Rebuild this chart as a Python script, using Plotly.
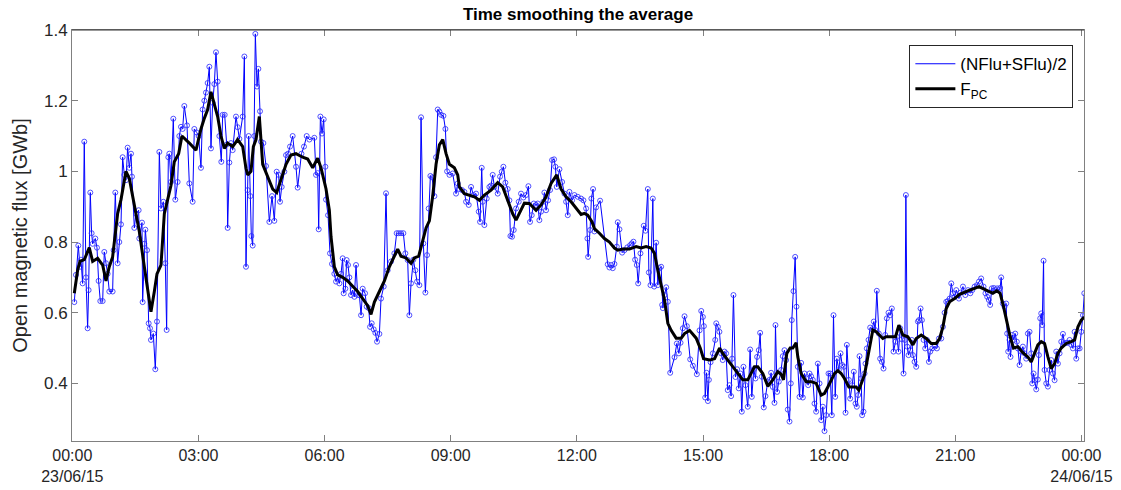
import plotly.graph_objects as go

# ---- data: hours after 00:00 23/06/15 ----
blue_hours = [
    0.048, 0.087, 0.143, 0.182, 0.206, 0.246, 0.285, 0.325, 0.365, 0.388, 0.428, 0.46, 0.484, 0.547, 0.587,
    0.626, 0.666, 0.722, 0.761, 0.801, 0.84, 0.88, 0.959, 0.983, 1.023, 1.078, 1.118, 1.158, 1.197, 1.237,
    1.277, 1.316, 1.356, 1.396, 1.419, 1.475, 1.515, 1.578, 1.594, 1.657, 1.673, 1.713, 1.737, 1.777, 1.816,
    1.848, 1.871, 1.927, 1.974, 2.014, 2.07, 2.109, 2.165, 2.212, 2.244, 2.284, 2.307, 2.347, 2.402, 2.45,
    2.505, 2.545, 2.585, 2.624, 2.664, 2.728, 2.783, 2.862, 2.902, 2.958,
    3.005, 3.06, 3.1, 3.14, 3.179, 3.219, 3.259, 3.298, 3.338, 3.378, 3.417, 3.457, 3.497, 3.544, 3.576,
    3.624, 3.671, 3.695, 3.735, 3.774, 3.814, 3.893, 3.933, 3.973, 4.052, 4.092, 4.131, 4.171, 4.195, 4.234,
    4.258, 4.29, 4.329, 4.353, 4.393, 4.425, 4.464, 4.488, 4.544, 4.607, 4.686, 4.75, 4.805, 4.861, 4.908,
    4.94, 4.98, 5.043, 5.083, 5.13, 5.178, 5.241, 5.32, 5.36, 5.45, 5.51, 5.574, 5.638, 5.756, 5.796,
    5.836, 5.86, 5.9, 5.939, 5.979, 6.018, 6.034, 6.082,
    6.129, 6.176, 6.232, 6.272, 6.311, 6.351, 6.391, 6.43, 6.454, 6.494, 6.525, 6.557, 6.589, 6.629, 6.668,
    6.708, 6.748, 6.787, 6.827, 6.867, 6.906, 6.962, 7.001, 7.049, 7.081, 7.12, 7.168, 7.207, 7.247, 7.303,
    7.342, 7.406, 7.461, 7.5, 7.58, 7.659, 7.714, 7.762, 7.817, 7.873, 7.921, 7.976, 8.016, 8.056, 8.111,
    8.159, 8.199, 8.254, 8.294, 8.349, 8.397, 8.437, 8.476, 8.516, 8.556, 8.611, 8.651, 8.691, 8.73, 8.77,
    8.826, 8.873, 8.913, 8.97,
    9.047, 9.126, 9.166, 9.206, 9.269, 9.325, 9.364, 9.428, 9.483, 9.539, 9.602, 9.666, 9.697, 9.737, 9.761,
    9.8, 9.856, 9.919, 9.959, 9.998, 10.038, 10.117, 10.173, 10.213, 10.252, 10.3, 10.355, 10.395, 10.419, 10.458,
    10.498, 10.553, 10.617, 10.672, 10.728, 10.791, 10.847, 10.886, 10.926, 10.974, 11.029, 11.069, 11.108, 11.148, 11.203,
    11.227, 11.267, 11.315, 11.362, 11.41, 11.458, 11.489, 11.521, 11.585, 11.648, 11.704, 11.743, 11.783, 11.822, 11.886,
    11.941, 12.021, 12.1, 12.156, 12.219, 12.251, 12.267,
    12.314, 12.345, 12.385, 12.417, 12.457, 12.552, 12.734, 12.774, 12.814, 12.853, 12.893, 12.949, 12.972, 13.012, 13.076,
    13.131, 13.2, 13.266, 13.306, 13.345, 13.385, 13.425, 13.457, 13.512, 13.591, 13.631, 13.687, 13.711, 13.75, 13.806,
    13.838, 13.885, 13.925, 13.965, 14.004, 14.028, 14.044, 14.084, 14.124, 14.163, 14.219, 14.322, 14.377, 14.425, 14.465,
    14.52, 14.56, 14.616, 14.695, 14.758, 14.853, 14.917, 14.957, 14.996, 15.02, 15.052, 15.084, 15.116, 15.139, 15.179,
    15.234, 15.29, 15.314, 15.353,
    15.39, 15.43, 15.469, 15.509, 15.549, 15.588, 15.628, 15.668, 15.692, 15.723, 15.771, 15.811, 15.85, 15.89, 15.922,
    15.961, 16.009, 16.064, 16.12, 16.16, 16.207, 16.247, 16.286, 16.326, 16.358, 16.397, 16.445, 16.485, 16.54, 16.58,
    16.619, 16.659, 16.699, 16.723, 16.762, 16.802, 16.857, 16.897, 16.937, 16.976, 17.016, 17.056, 17.087, 17.111, 17.151,
    17.191, 17.222, 17.254, 17.294, 17.333, 17.373, 17.413, 17.452, 17.5, 17.532, 17.571, 17.611, 17.651, 17.69, 17.73,
    17.77, 17.81, 17.849, 17.889, 17.929, 17.984, 18.024, 18.063, 18.103, 18.143, 18.182, 18.23, 18.27, 18.309, 18.349,
    18.389, 18.42,
    18.467, 18.499, 18.546, 18.586, 18.626, 18.657, 18.689, 18.721, 18.76, 18.784, 18.816, 18.84, 18.864, 18.895, 18.935,
    18.975, 19.022, 19.062, 19.094, 19.133, 19.181, 19.212, 19.252, 19.292, 19.332, 19.371, 19.411, 19.451, 19.49, 19.53,
    19.578, 19.609, 19.649, 19.689, 19.728, 19.768, 19.8, 19.824, 19.856, 19.887, 19.927, 19.967, 19.991, 20.03, 20.07,
    20.11, 20.134, 20.173, 20.205, 20.245, 20.284, 20.324, 20.372, 20.403, 20.451, 20.507, 20.562, 20.61, 20.665, 20.705,
    20.745, 20.784, 20.824, 20.864, 20.903, 20.943, 20.983, 21.022, 21.086, 21.126, 21.181, 21.237, 21.3, 21.356, 21.403,
    21.459, 21.514, 21.562,
    21.614, 21.67, 21.717, 21.757, 21.797, 21.828, 21.868, 21.916, 21.955, 21.995, 22.035, 22.066, 22.09, 22.13, 22.17,
    22.209, 22.233, 22.257, 22.289, 22.312, 22.352, 22.392, 22.424, 22.463, 22.487, 22.527, 22.566, 22.606, 22.646, 22.686,
    22.725, 22.765, 22.805, 22.829, 22.86, 22.892, 22.924, 22.963, 22.987, 23.019, 23.043, 23.066, 23.098, 23.122, 23.162,
    23.202, 23.241, 23.281, 23.321, 23.36, 23.4, 23.44, 23.479, 23.519, 23.559, 23.598, 23.638, 23.678, 23.718, 23.757,
    23.797, 23.837, 23.876, 23.916, 23.956, 23.995, 24.035, 24.067,
]

blue_values = [
    0.63, 0.707, 0.79, 0.73, 0.75, 0.683, 1.084, 0.70, 0.556, 0.664, 0.94, 0.825, 0.795, 0.81, 0.784,
    0.69, 0.633, 0.633, 0.772, 0.74, 0.71, 0.66, 0.66, 0.777, 0.94, 0.74, 0.80, 0.85, 1.04, 0.99,
    0.975, 1.067, 1.01, 1.05, 0.985, 0.84, 0.88, 0.89, 0.81, 0.855, 0.63, 0.795, 0.835, 0.777, 0.57,
    0.556, 0.523, 0.541, 0.44, 0.575, 1.055, 0.895, 0.914, 0.74, 0.551, 1.04, 1.05, 0.97, 1.149, 0.92,
    0.97, 1.10, 1.126, 1.12, 1.185, 1.13, 0.966, 0.914, 1.12, 1.11,
    1.10, 1.01, 1.175, 1.20, 1.223, 1.25, 1.296, 1.065, 1.194, 1.247, 1.337, 1.254, 1.10, 1.027, 1.16,
    1.16, 1.076, 0.84, 1.025, 1.08, 1.06, 1.155, 1.125, 1.092, 1.155, 1.325, 0.73, 0.947, 1.10, 0.93,
    0.817, 0.79, 1.10, 1.389, 1.24, 1.29, 1.17, 1.084, 1.08, 1.015, 0.857, 0.93, 0.86, 0.999, 0.99,
    0.914, 0.956, 0.999, 1.046, 1.05, 1.07, 1.10, 1.013, 0.954, 1.05, 1.07, 1.10, 1.09, 1.095, 0.99,
    0.995, 0.836, 1.155, 1.107, 1.147, 1.013, 0.92, 0.876,
    0.768, 0.738, 0.71, 0.688, 0.70, 0.683, 0.71, 0.754, 0.655, 0.668, 0.749, 0.735, 0.70, 0.65, 0.664,
    0.645, 0.735, 0.65, 0.65, 0.593, 0.668, 0.655, 0.617, 0.613, 0.56, 0.57, 0.553, 0.543, 0.518, 0.54,
    0.64, 0.674, 0.938, 0.72, 0.745, 0.768, 0.825, 0.825, 0.825, 0.825, 0.768, 0.749, 0.593, 0.683, 0.75,
    0.72, 0.688, 0.678, 1.153, 0.796, 0.657, 0.763, 0.895, 0.987, 0.983, 0.93, 1.04, 1.175, 1.169, 1.16,
    1.157, 1.12, 1.0, 0.99,
    0.994, 0.937, 0.966, 0.95, 0.947, 0.942, 0.914, 0.905, 0.956, 0.933, 0.937, 0.886, 0.857, 1.01, 0.914,
    0.848, 0.923, 0.956, 0.96, 0.99, 0.956, 0.937, 0.985, 0.999, 1.013, 0.968, 0.95, 0.918, 0.817, 0.815,
    0.834, 0.895, 0.914, 0.937, 0.926, 0.933, 0.958, 0.857, 0.876, 0.909, 0.905, 0.909, 0.862, 0.886, 0.914,
    0.94, 0.89, 0.918, 0.947, 1.032, 1.034, 1.013, 0.956, 1.006, 0.97, 0.937, 0.914, 0.876, 0.942, 0.918,
    0.933, 0.928, 0.923, 0.918, 0.895, 0.81, 0.758,
    0.834, 0.923, 0.95, 0.83, 0.898, 0.917, 0.737, 0.728, 0.735, 0.726, 0.738, 0.787, 0.856, 0.836, 0.77,
    0.777, 0.785, 0.791, 0.796, 0.801, 0.75, 0.735, 0.683, 0.768, 0.846, 0.832, 0.95, 0.714, 0.678, 0.923,
    0.674, 0.798, 0.678, 0.726, 0.73, 0.622, 0.613, 0.65, 0.672, 0.631, 0.43, 0.474, 0.513, 0.485, 0.515,
    0.556, 0.59, 0.562, 0.468, 0.45, 0.426, 0.55, 0.605, 0.588, 0.562, 0.36, 0.43, 0.35, 0.41, 0.46,
    0.485, 0.523, 0.57, 0.56,
    0.546, 0.485, 0.466, 0.49, 0.485, 0.381, 0.395, 0.364, 0.47, 0.65, 0.418, 0.44, 0.386, 0.428, 0.32,
    0.447, 0.395, 0.334, 0.496, 0.362, 0.44, 0.414, 0.475, 0.494, 0.543, 0.419, 0.332, 0.364, 0.405, 0.41,
    0.43, 0.39, 0.345, 0.565, 0.376, 0.405, 0.438, 0.477, 0.494, 0.466, 0.326, 0.292, 0.40, 0.579, 0.661,
    0.758, 0.617, 0.447, 0.362, 0.458, 0.36, 0.428, 0.414, 0.395, 0.428, 0.42, 0.41, 0.343, 0.32, 0.456,
    0.40, 0.296, 0.334, 0.265, 0.31, 0.428, 0.428, 0.31, 0.593, 0.362, 0.47, 0.438, 0.485, 0.452, 0.447,
    0.317, 0.509,
    0.41, 0.357, 0.395, 0.433, 0.343, 0.334, 0.367, 0.477, 0.414, 0.31, 0.32, 0.428, 0.456, 0.499, 0.523,
    0.558, 0.553, 0.575, 0.551, 0.662, 0.541, 0.47, 0.461, 0.442, 0.537, 0.584, 0.60, 0.593, 0.612, 0.49,
    0.518, 0.532, 0.49, 0.556, 0.525, 0.428, 0.523, 0.933, 0.504, 0.48, 0.494, 0.523, 0.48, 0.461, 0.447,
    0.575, 0.579, 0.612, 0.579, 0.523, 0.499, 0.523, 0.461, 0.49, 0.499, 0.504, 0.499, 0.527, 0.527, 0.56,
    0.60, 0.631, 0.633, 0.64, 0.683, 0.655, 0.645, 0.664, 0.64, 0.657, 0.674, 0.65, 0.664, 0.655, 0.664,
    0.674, 0.678, 0.688,
    0.697, 0.674, 0.655, 0.645, 0.636, 0.622, 0.669, 0.67, 0.664, 0.669, 0.664, 0.67, 0.70, 0.626, 0.617,
    0.626, 0.541, 0.49, 0.523, 0.475, 0.537, 0.523, 0.541, 0.518, 0.499, 0.452, 0.49, 0.504, 0.485, 0.47,
    0.541, 0.546, 0.485, 0.40, 0.428, 0.409, 0.383, 0.411, 0.48, 0.584, 0.598, 0.565, 0.747, 0.438, 0.40,
    0.391, 0.438, 0.466, 0.428, 0.409, 0.49, 0.456, 0.485, 0.518, 0.54, 0.513, 0.515, 0.515, 0.523, 0.509,
    0.499, 0.546, 0.47, 0.499, 0.499, 0.546, 0.593, 0.655,
]

fpc_hours = [
    0.048, 0.127, 0.182, 0.285, 0.404, 0.484, 0.603, 0.722, 0.801, 0.88, 0.959, 1.078, 1.158, 1.277, 1.356,
    1.475, 1.594, 1.713, 1.792, 1.871, 1.951, 2.014, 2.109, 2.189, 2.268, 2.347, 2.426, 2.529, 2.608, 2.704,
    2.783, 2.942, 3.06, 3.14, 3.219, 3.298, 3.378, 3.457, 3.536, 3.616, 3.695, 3.814, 3.933, 4.052, 4.131,
    4.171, 4.25, 4.306, 4.369, 4.448, 4.528, 4.647, 4.766, 4.861, 4.964, 5.083, 5.2, 5.32, 5.479, 5.598,
    5.717, 5.836, 5.915, 6.034, 6.113,
    6.153, 6.232, 6.311, 6.43, 6.549, 6.668, 6.787, 6.906, 7.025, 7.104, 7.184, 7.303, 7.422, 7.54, 7.659,
    7.738, 7.817, 7.936, 8.056, 8.135, 8.238, 8.333, 8.413, 8.492, 8.571, 8.651, 8.73, 8.81, 8.889, 8.968,
    9.087, 9.166,
    9.206, 9.325, 9.444, 9.563, 9.682, 9.8, 9.959, 10.117, 10.236, 10.355, 10.474, 10.553, 10.632, 10.751, 10.87,
    11.029, 11.148, 11.267, 11.386, 11.521, 11.624, 11.743, 11.862, 11.981, 12.1,
    12.179, 12.258, 12.361, 12.417, 12.536, 12.655, 12.774, 12.893, 12.972, 13.091, 13.25, 13.409, 13.528, 13.647, 13.766,
    13.845, 13.925, 14.004, 14.084, 14.163, 14.242, 14.361, 14.48, 14.56, 14.679, 14.837, 14.933, 15.012, 15.155, 15.274,
    15.393,
    15.469, 15.588, 15.707, 15.826, 15.945, 16.064, 16.144, 16.223, 16.302, 16.421, 16.54, 16.659, 16.778, 16.857, 16.913,
    16.992, 17.071, 17.135, 17.214, 17.254, 17.333, 17.452, 17.571, 17.69, 17.81, 17.889, 17.968, 18.047, 18.127, 18.206,
    18.285, 18.364, 18.468,
    18.563, 18.642, 18.705, 18.76, 18.84, 18.919, 18.975, 19.038, 19.117, 19.197, 19.276, 19.355, 19.474, 19.578, 19.657,
    19.752, 19.871, 19.991, 20.07, 20.189, 20.308, 20.427, 20.546, 20.626, 20.705, 20.784, 20.864, 20.983, 21.102, 21.221,
    21.34, 21.459, 21.562,
    21.697, 21.812, 21.892, 21.987, 22.066, 22.146, 22.225, 22.305, 22.384, 22.487, 22.606, 22.725, 22.805, 22.884, 22.963,
    23.043, 23.122, 23.202, 23.281, 23.36, 23.44, 23.519, 23.638, 23.757, 23.837, 23.916, 23.995, 24.067,
]

fpc_values = [
    0.655, 0.72, 0.745, 0.75, 0.784, 0.745, 0.754, 0.735, 0.69, 0.73, 0.758, 0.88, 0.92, 1.0, 0.98,
    0.90, 0.83, 0.73, 0.66, 0.603, 0.66, 0.71, 0.735, 0.88, 0.92, 0.96, 1.027, 1.05, 1.10, 1.09,
    1.08, 1.06, 1.12, 1.15, 1.175, 1.225, 1.19, 1.155, 1.10, 1.065, 1.08, 1.07, 1.09, 1.07, 1.008,
    0.99, 1.0, 1.07, 1.09, 1.155, 1.02, 0.985, 0.95, 0.94, 0.98, 1.02, 1.046, 1.05, 1.04, 1.035,
    1.01, 1.037, 1.01, 0.95, 0.89,
    0.815, 0.73, 0.707, 0.70, 0.69, 0.675, 0.66, 0.64, 0.62, 0.595, 0.63, 0.66, 0.69, 0.73, 0.76,
    0.78, 0.76, 0.755, 0.74, 0.755, 0.76, 0.80, 0.84, 0.86, 0.93, 1.02, 1.075, 1.09, 1.05, 1.02,
    1.01, 0.99,
    0.956, 0.937, 0.933, 0.928, 0.918, 0.933, 0.947, 0.968, 0.956, 0.918, 0.88, 0.862, 0.88, 0.91, 0.909,
    0.89, 0.905, 0.928, 0.966, 0.99, 0.95, 0.928, 0.914, 0.895, 0.878,
    0.881, 0.876, 0.857, 0.838, 0.825, 0.81, 0.80, 0.783, 0.777, 0.78, 0.78, 0.787, 0.783, 0.787, 0.783,
    0.768, 0.72, 0.674, 0.636, 0.57, 0.55, 0.528, 0.528, 0.541, 0.55, 0.528, 0.5, 0.47, 0.466, 0.47,
    0.5,
    0.485, 0.466, 0.447, 0.428, 0.41, 0.41, 0.428, 0.447, 0.447, 0.428, 0.392, 0.41, 0.433, 0.426, 0.41,
    0.485, 0.5, 0.5, 0.515, 0.475, 0.428, 0.405, 0.405, 0.40, 0.367, 0.372, 0.39, 0.41, 0.428, 0.436,
    0.428, 0.414, 0.39,
    0.39, 0.39, 0.381, 0.40, 0.424, 0.475, 0.513, 0.551, 0.546, 0.537, 0.527, 0.532, 0.532, 0.532, 0.565,
    0.537, 0.532, 0.509, 0.527, 0.537, 0.527, 0.513, 0.513, 0.527, 0.56, 0.612, 0.631, 0.64, 0.652, 0.659,
    0.664, 0.669, 0.674,
    0.666, 0.66, 0.655, 0.662, 0.655, 0.617, 0.57, 0.532, 0.5, 0.504, 0.487, 0.475, 0.461, 0.485, 0.509,
    0.518, 0.513, 0.475, 0.442, 0.456, 0.485, 0.5, 0.513, 0.518, 0.523, 0.56, 0.579, 0.588,
]

tick_hours = [0, 3, 6, 9, 12, 15, 18, 21, 24]
tick_labels = ["00:00<br>23/06/15", "03:00", "06:00", "09:00", "12:00", "15:00", "18:00", "21:00", "00:00<br>24/06/15"]
y_ticks = [0.4, 0.6, 0.8, 1.0, 1.2, 1.4]
y_tick_labels = ["0.4", "0.6", "0.8", "1", "1.2", "1.4"]

FONT = "Liberation Sans, Arial, Helvetica, sans-serif"
AX = "#808080"
TXT = "#262626"

fig = go.Figure()
fig.add_trace(go.Scatter(
    x=blue_hours, y=blue_values, mode="lines", name="(NFlu+SFlu)/2",
    line=dict(color="rgb(0,0,255)", width=1),
))
fig.add_trace(go.Scatter(
    x=blue_hours, y=blue_values, mode="markers", showlegend=False, hoverinfo="skip",
    marker=dict(symbol="circle-open", size=5, color="rgba(40,40,255,0.8)", line=dict(width=1)),
))
fig.add_trace(go.Scatter(
    x=fpc_hours, y=fpc_values, mode="lines", name="F<sub>PC</sub>",
    line=dict(color="black", width=3),
))

fig.update_layout(
    width=1121, height=490,
    margin=dict(l=72, r=37, t=30, b=49),
    paper_bgcolor="white", plot_bgcolor="white",
    font=dict(family=FONT, size=16, color=TXT),
    title=dict(text="<b>Time smoothing the average</b>", x=0.5, xref="paper", xanchor="center",
               y=1 - 14 / 490, yref="container", yanchor="middle",
               font=dict(family=FONT, size=17, color="black")),
    legend=dict(x=0.9895, y=0.963, xanchor="right", yanchor="top",
                bgcolor="white", bordercolor=TXT, borderwidth=1,
                font=dict(family=FONT, size=17, color="black"),
                itemwidth=40, tracegroupgap=0),
    showlegend=True,
)
fig.update_xaxes(
    range=[-0.007, 24.06], tickvals=tick_hours, ticktext=tick_labels, automargin=False,
    showgrid=False, zeroline=False, showline=True, linecolor=AX, linewidth=1, mirror="ticks",
    ticks="inside", ticklen=6, tickcolor=AX, tickfont=dict(size=16, color=TXT),
)
fig.update_yaxes(
    range=[0.237, 1.4], tickvals=y_ticks, ticktext=y_tick_labels, automargin=False,
    showgrid=False, zeroline=False, showline=True, linecolor=AX, linewidth=1, mirror="ticks",
    ticks="inside", ticklen=6, tickcolor=AX, tickfont=dict(size=17, color=TXT),
    title=dict(text="Open magnetic flux [GWb]", font=dict(size=20, color=TXT), standoff=10),
)
fig.add_shape(type="line", xref="paper", yref="paper", x0=0, x1=1, y0=1, y1=1,
              line=dict(color="#333333", width=1))

fig.write_html("out.html")
